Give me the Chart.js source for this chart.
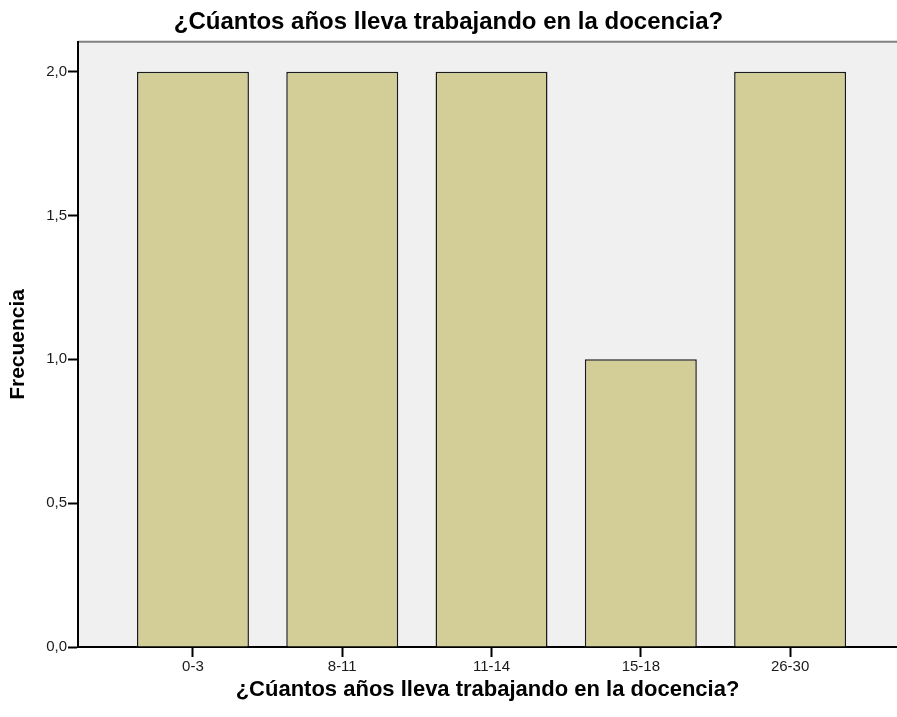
<!DOCTYPE html>
<html>
<head>
<meta charset="utf-8">
<script src="https://cdn.jsdelivr.net/npm/chart.js@4/dist/chart.umd.min.js"></script>
<style>
  html, body { margin: 0; padding: 0; background: #fff; }
  #wrap { width: 897px; height: 717px; }
</style>
</head>
<body>
<div id="wrap"><canvas id="chart"></canvas></div>
<script>
const categories = ['0-3', '8-11', '11-14', '15-18', '26-30'];
const frequencies = [2, 2, 2, 1, 2];
const yTicks = [0, 0.5, 1, 1.5, 2];
const titleText = '¿Cúantos años lleva trabajando en la docencia?';

const FONT = '"Liberation Sans", Arial, sans-serif';

// gray plot background plus the thin top border
const plotBackground = {
    id: 'plotBackground',
    beforeDraw(chart) {
        const {ctx, chartArea: a} = chart;
        ctx.save();
        ctx.fillStyle = '#f0f0f0';
        ctx.fillRect(a.left, a.top, a.right - a.left, a.bottom - a.top);
        ctx.strokeStyle = '#808080';
        ctx.lineWidth = 2;
        ctx.beginPath();
        ctx.moveTo(a.left, a.top);
        ctx.lineTo(a.right, a.top);
        ctx.stroke();
        ctx.restore();
    }
};

new Chart(document.getElementById('chart'), {
    type: 'bar',
    data: {
        datasets: [{
            data: frequencies.map((v, i) => ({x: i, y: v})),
            backgroundColor: '#d3ce98',
            borderColor: '#1a1a1a',
            borderWidth: 1.5,
            barPercentage: 0.75,
            categoryPercentage: 1,
        }]
    },
    options: {
        responsive: true,
        maintainAspectRatio: false,
        animation: false,
        layout: {
            padding: 0
        },
        scales: {
            x: {
                type: 'linear',
                offset: false,
                min: -0.77,
                max: 4.716,
                afterBuildTicks: scale => {
                    scale.ticks = categories.map((c, i) => ({value: i}));
                },
                afterFit: scale => {
                    scale.height = 70;
                },
                grid: {
                    offset: false,
                    drawOnChartArea: false,
                    drawTicks: true,
                    tickLength: 10,
                    tickWidth: 2,
                    color: '#000',
                },
                border: {display: true, color: '#000', width: 2},
                ticks: {
                    autoSkip: false,
                    maxRotation: 0,
                    padding: 1,
                    color: '#1a1a1a',
                    font: {family: FONT, size: 15},
                    callback: value => categories[value] ?? '',
                },
                title: {
                    display: true,
                    text: titleText,
                    color: '#000',
                    padding: {top: 0, bottom: 14},
                    font: {family: FONT, size: 22, weight: 'bold'},
                }
            },
            y: {
                min: 0,
                max: 2.104,
                afterBuildTicks: scale => {
                    scale.ticks = yTicks.map(v => ({value: v}));
                },
                afterFit: scale => {
                    scale.width = 78;
                },
                grid: {
                    drawOnChartArea: false,
                    drawTicks: true,
                    tickLength: 10,
                    tickWidth: 2,
                    color: '#000',
                },
                border: {display: true, color: '#000', width: 2},
                ticks: {
                    padding: 1,
                    color: '#1a1a1a',
                    font: {family: FONT, size: 15},
                    callback: value => value.toFixed(1).replace('.', ','),
                },
                title: {
                    display: true,
                    text: 'Frecuencia',
                    color: '#000',
                    padding: {top: 6, bottom: 0},
                    font: {family: FONT, size: 21, weight: 'bold'},
                }
            }
        },
        plugins: {
            legend: {display: false},
            tooltip: {enabled: false},
            title: {
                display: true,
                text: titleText,
                color: '#000',
                padding: {top: 8, bottom: 5},
                font: {family: FONT, size: 24, weight: 'bold'},
            }
        }
    },
    plugins: [plotBackground]
});
</script>
</body>
</html>
